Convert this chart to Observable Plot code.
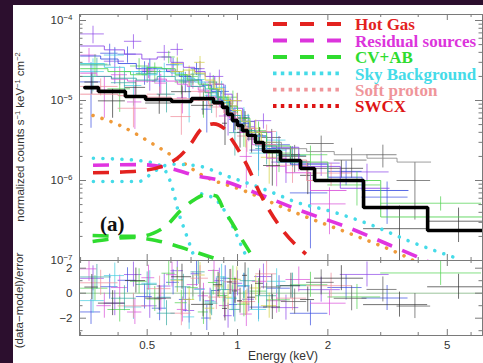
<!DOCTYPE html>
<html><head><meta charset="utf-8">
<script src="https://cdn.jsdelivr.net/npm/d3@7"></script>
<script src="https://cdn.jsdelivr.net/npm/@observablehq/plot@0.6"></script>
<style>
body{margin:0;background:#2c0f2e;}
#wrap{position:relative;width:483px;height:363px;overflow:hidden;background:#2c0f2e;}
#paper{position:absolute;left:13px;top:5px;width:470px;height:358px;background:#fff;}
.abs{position:absolute;left:0;top:0;}
</style></head><body>
<div id="wrap"><div id="paper"></div>
<div id="upper" class="abs"></div>
<div id="lower" class="abs" style="top:260px"></div>
</div>
<script>
// ---------- data: spectra rows [Elo, Ehi, model, data, relErr] ----------
const specPurple = [
 [0.30,0.36,4.8e-5,6.8e-5,0.35],[0.36,0.42,4.3e-5,3.1e-5,0.35],[0.42,0.48,3.8e-5,5.5e-5,0.30],
 [0.48,0.54,3.3e-5,2.3e-5,0.30],[0.54,0.60,3.5e-5,4.0e-5,0.25],[0.60,0.66,3.0e-5,4.35e-5,0.25],
 [0.66,0.72,2.6e-5,1.7e-5,0.25],[0.72,0.78,2.3e-5,2.5e-5,0.25],[0.78,0.84,2.0e-5,1.7e-5,0.25],
 [0.84,0.90,1.6e-5,2.0e-5,0.25],[0.90,0.96,1.2e-5,6.6e-6,0.25],[0.96,1.04,8.0e-6,9.9e-6,0.30],
 [1.04,1.14,5.5e-6,4.7e-6,0.30],[1.14,1.30,4.0e-6,5.6e-6,0.30],[1.30,1.60,2.6e-6,1.7e-6,0.30],
 [1.60,2.20,1.5e-6,1.65e-6,0.35],[2.20,3.20,8.0e-7,1.28e-6,0.40]
];
const specBlue = [
 [0.30,0.35,3.6e-5,1.71e-5,0.35],[0.35,0.40,3.3e-5,3.9e-5,0.35],[0.40,0.46,2.9e-5,3.8e-5,0.30],
 [0.46,0.52,2.5e-5,2.3e-5,0.30],[0.52,0.58,2.5e-5,1.75e-5,0.25],[0.58,0.64,2.3e-5,2.8e-5,0.25],
 [0.64,0.70,2.0e-5,1.75e-5,0.25],[0.70,0.76,1.8e-5,2.5e-5,0.25],[0.76,0.82,1.55e-5,7.8e-6,0.25],
 [0.82,0.88,1.3e-5,1.37e-5,0.25],[0.88,0.94,1.0e-5,1.3e-5,0.25],[0.94,1.00,7.5e-6,5.8e-6,0.25],
 [1.00,1.10,5.2e-6,6.1e-6,0.30],[1.10,1.25,3.6e-6,2.4e-6,0.30],[1.25,1.50,2.5e-6,2.8e-6,0.30],
 [1.50,2.00,1.6e-6,7.0e-7,0.35],[2.00,2.60,1.1e-6,1.3e-6,0.40],[2.60,3.70,7.5e-7,6.2e-7,0.45]
];
const specMagenta = [
 [0.30,0.34,2.2e-5,3.7e-5,0.35],[0.34,0.38,2.0e-5,1.3e-5,0.35],[0.38,0.43,1.85e-5,2.1e-5,0.30],
 [0.43,0.48,1.75e-5,9.6e-6,0.30],[0.48,0.53,1.75e-5,2.4e-5,0.30],[0.53,0.58,1.85e-5,1.65e-5,0.25],
 [0.58,0.63,1.75e-5,2.4e-5,0.25],[0.63,0.68,1.6e-5,1.08e-5,0.25],[0.68,0.74,1.5e-5,1.76e-5,0.25],
 [0.74,0.80,1.35e-5,1.28e-5,0.25],[0.80,0.87,1.1e-5,1.6e-5,0.25],[0.87,0.94,8.5e-6,6.4e-6,0.25],
 [0.94,1.02,6.0e-6,6.5e-6,0.30],[1.02,1.12,4.0e-6,2.0e-6,0.30],[1.12,1.25,2.8e-6,3.6e-6,0.30],
 [1.25,1.45,1.9e-6,1.5e-6,0.35],[1.45,1.75,1.25e-6,1.73e-6,0.35],[1.75,2.30,7.5e-7,5.1e-7,0.40]
];
const specCyan = [
 [0.30,0.36,2.9e-5,2.3e-5,0.35],[0.36,0.42,2.6e-5,3.7e-5,0.30],[0.42,0.48,2.3e-5,1.54e-5,0.30],
 [0.48,0.54,2.1e-5,2.6e-5,0.30],[0.54,0.60,2.5e-5,2.3e-5,0.25],[0.60,0.66,2.2e-5,2.8e-5,0.25],
 [0.66,0.72,1.9e-5,1.0e-5,0.25],[0.72,0.78,1.7e-5,1.83e-5,0.25],[0.78,0.85,1.4e-5,1.16e-5,0.25],
 [0.85,0.92,1.1e-5,1.46e-5,0.25],[0.92,1.00,8.0e-6,7.2e-6,0.25],[1.00,1.10,5.5e-6,6.5e-6,0.30],
 [1.10,1.25,3.6e-6,2.2e-6,0.30],[1.25,1.45,2.4e-6,3.2e-6,0.35]
];
const specGreen = [
 [0.30,0.37,2.5e-5,2.85e-5,0.35],[0.37,0.44,2.3e-5,1.4e-5,0.30],[0.44,0.50,2.1e-5,2.7e-5,0.30],
 [0.50,0.56,2.6e-5,2.3e-5,0.25],[0.56,0.62,2.5e-5,3.5e-5,0.25],[0.62,0.68,2.1e-5,1.7e-5,0.25],
 [0.68,0.74,1.8e-5,2.0e-5,0.25],[0.74,0.80,1.6e-5,1.0e-5,0.25],[0.80,0.86,1.4e-5,1.7e-5,0.25],
 [0.86,0.93,1.1e-5,1.05e-5,0.25],[0.93,1.00,8.5e-6,1.1e-5,0.25],[1.00,1.10,6.0e-6,4.4e-6,0.30],
 [1.10,1.25,4.0e-6,4.2e-6,0.30],[1.25,1.50,2.7e-6,2.2e-6,0.35],[1.50,2.00,1.7e-6,2.1e-6,0.35],
 [2.00,3.00,1.0e-6,8.8e-7,0.40],[3.00,6.50,3.5e-7,5.2e-7,0.30]
];
const specYellow = [
 [0.60,0.66,2.3e-5,2.9e-5,0.25],[0.66,0.72,2.4e-5,2.1e-5,0.25],[0.72,0.78,2.2e-5,3.0e-5,0.25],
 [0.78,0.84,1.8e-5,1.26e-5,0.25],[0.84,0.90,1.4e-5,1.6e-5,0.25],[0.90,0.96,1.0e-5,9.2e-6,0.25],
 [0.96,1.03,7.5e-6,1.0e-5,0.30],[1.03,1.10,5.5e-6,4.2e-6,0.30],[1.10,1.20,4.0e-6,4.5e-6,0.30],
 [1.20,1.35,3.0e-6,1.95e-6,0.35]
];
const specPink = [
 [0.30,0.40,1.2e-5,1.5e-5,0.30],[0.40,0.50,1.15e-5,8.0e-6,0.30],[0.50,0.60,1.1e-5,1.2e-5,0.25],
 [0.60,0.70,1.05e-5,6.3e-6,0.25],[0.70,0.80,1.0e-5,1.3e-5,0.25],[0.80,0.90,9.0e-6,8.3e-6,0.25],
 [0.90,1.00,7.0e-6,8.6e-6,0.25],[1.00,1.15,4.5e-6,3.6e-6,0.30],[1.15,1.35,2.8e-6,4.1e-6,0.30],
 [1.35,1.70,1.8e-6,1.55e-6,0.35],[1.70,2.40,1.0e-6,1.24e-6,0.40]
];
const specTeal = [
 [0.30,0.38,2.0e-5,2.78e-5,0.30],[0.38,0.46,1.9e-5,1.67e-5,0.30],[0.46,0.54,1.8e-5,2.18e-5,0.30],
 [0.54,0.62,2.0e-5,1.2e-5,0.25],[0.62,0.70,1.8e-5,2.03e-5,0.25],[0.70,0.78,1.5e-5,2.14e-5,0.25],
 [0.78,0.86,1.25e-5,1.0e-5,0.25],[0.86,0.94,9.5e-6,1.02e-5,0.25],[0.94,1.02,6.5e-6,3.97e-6,0.30],
 [1.02,1.15,4.2e-6,5.46e-6,0.30],[1.15,1.35,2.7e-6,2.51e-6,0.35],[1.35,1.70,1.7e-6,2.06e-6,0.35]
];
const specGrey = [
 [1.20,1.40,3.0e-6,3.45e-6,0.30],[1.40,1.70,2.5e-6,2.0e-6,0.30],[1.70,2.10,2.3e-6,2.9e-6,0.30],
 [2.10,2.70,2.1e-6,1.8e-6,0.35],[2.70,3.40,1.9e-6,2.1e-6,0.35],[3.40,4.40,1.7e-6,1.0e-6,0.40]
];
const specBlack = [
 [0.31,0.344,1.45e-5,1.7e-5,0.35],[0.344,0.423,1.30e-5,9.9e-6,0.30],[0.423,0.494,1.12e-5,1.46e-5,0.30],
 [0.494,0.603,1.03e-5,9.3e-6,0.25],[0.603,0.703,9.7e-6,1.29e-5,0.25],[0.703,0.832,1.06e-5,8.7e-6,0.20],
 [0.832,0.891,9.4e-6,1.1e-5,0.25],[0.891,0.926,8.2e-6,5.2e-6,0.30],[0.926,0.962,6.7e-6,8.5e-6,0.30],
 [0.962,1.0,5.6e-6,5.9e-6,0.30],[1.0,1.039,4.87e-6,4.0e-6,0.30],[1.039,1.08,4.2e-6,6.0e-6,0.30],
 [1.08,1.148,3.65e-6,3.3e-6,0.30],[1.148,1.221,2.99e-6,3.7e-6,0.30],[1.221,1.391,2.30e-6,1.54e-6,0.30],
 [1.391,1.622,1.78e-6,2.1e-6,0.30],[1.622,1.806,1.41e-6,1.16e-6,0.35],[1.806,2.63,1.0e-6,1.42e-6,0.35],
 [2.63,4.30,4.6e-7,2.5e-7,0.50],[4.30,6.6,2.37e-7,3.1e-7,0.60]
];

// ---------- model components (E keV, normalized counts) ----------
const hotGasE = [0.33,0.40,0.475,0.56,0.646,0.70,0.753,0.832,0.90,0.962,1.08,1.193,1.39,1.69];
const hotGasV = [1.25e-6,1.27e-6,1.32e-6,1.5e-6,2.05e-6,2.9e-6,4.3e-6,5.1e-6,4.5e-6,3.16e-6,1.5e-6,6.7e-7,2.6e-7,1.2e-7];
const residE = [0.33,0.475,0.60,0.719,0.912,1.139,1.622,2.29,3.24,4.30];
const residV = [1.55e-6,1.58e-6,1.41e-6,1.16e-6,9.7e-7,7.1e-7,4.2e-7,2.66e-7,1.54e-7,9.8e-8];
const cvab1E = [0.329,0.475,0.525,0.58,0.646,0.72,0.79,0.85,0.90,0.948,1.03,1.10];
const cvab1V = [2.05e-7,2.0e-7,2.2e-7,2.74e-7,4.2e-7,5.8e-7,6.7e-7,6.4e-7,4.3e-7,3.16e-7,1.88e-7,1.26e-7];
const cvab2E = [0.329,0.447,0.553,0.713,0.878,0.95];
const cvab2V = [1.73e-7,1.94e-7,1.73e-7,1.30e-7,1.0e-7,9.0e-8];
const skyLhbE = [0.331,0.40,0.468,0.553,0.603,0.636,0.671,0.724];
const skyLhbV = [1.9e-6,1.85e-6,1.78e-6,1.54e-6,8.7e-7,4.0e-7,2.24e-7,1.0e-7];
const skyCxbE = [0.331,0.468,0.533,0.598,0.724,0.933,1.259,1.585,2.01,2.82,3.69,5.41];
const skyCxbV = [9.7e-7,9.7e-7,1.33e-6,1.6e-6,1.54e-6,1.12e-6,7.5e-7,5.3e-7,4.2e-7,2.74e-7,1.78e-7,1.06e-7];
const skyHaloE = [0.76,0.82,0.87,0.912,0.985,1.047,1.09];
const skyHaloV = [6.8e-7,6.2e-7,5.2e-7,4.0e-7,2.24e-7,1.33e-7,1.0e-7];
const softProtonE = [0.33,0.40,0.533,0.646,0.764,1.047,1.50,2.42,3.63,3.98];
const softProtonV = [6.5e-6,5.0e-6,2.74e-6,1.75e-6,1.16e-6,7.5e-7,4.2e-7,2.1e-7,1.12e-7,9.4e-8];

// ---------- ticks & labels ----------
const majorX = [0.5,1,2,5];
const minorX = [0.3,0.4,0.6,0.7,0.8,0.9,3,4,6];
const majorYUp = [1e-7,1e-6,1e-5,1e-4];
const majorYLo = [-2,0,2];
const minorYLo = [-3,-1,1];
const legendLabels = ["Hot Gas","Residual sources","CV+AB","Sky Background","Soft proton","SWCX"];
const legendColors = ["#e3221f","#dc34dc","#2fdc2f","#45dbe8","#ef959a","#de1414"];
const legendDash = ["14 13","14 13","14 13","3.5 4.3","3.5 4.3","3.5 4.3"];

// ---------- build ----------
const spectra = [
 {rows:specPurple,color:"#8b45e8"},{rows:specBlue,color:"#3b4fe0"},{rows:specMagenta,color:"#d94fd9"},
 {rows:specCyan,color:"#45cde0"},{rows:specGreen,color:"#4fd24f"},{rows:specYellow,color:"#d2cf3c"},
 {rows:specPink,color:"#f08a9a"},{rows:specTeal,color:"#35a8a0"},{rows:specGrey,color:"#555",model:"#8c8c8c"},
 {rows:specBlack,color:"#333",model:"#000",w:3.6}
];
const rowsOf = s => s.rows.map(([lo,hi,m,d,r])=>({lo,hi,c:(lo+hi)/2,m,d,e:r*m,res:(d-m)/(r*m)}));
const pts = (E,V) => E.map((e,i)=>({x:e,y:V[i]}));

const W=483, ML=79, MR=1, innerW=W-ML-MR;
const xDomain=[0.2975,6.55];
const frameC="#7a7a7a";
const upH=262, upMT=14, upMB=2, upIH=upH-upMT-upMB;
const loH=103, loMT=0, loMB=28, loIH=loH-loMT-loMB;

const minorYUp = [];
for (const dec of [1e-7,1e-6,1e-5]) for (let k=2;k<=9;k++) minorYUp.push(k*dec);

function xTickMarks(IH){
 return [
  Plot.ruleX(majorX,{x:d=>d,insetBottom:IH-6,stroke:frameC}),
  Plot.ruleX(majorX,{x:d=>d,insetTop:IH-6,stroke:frameC}),
  Plot.ruleX(minorX,{x:d=>d,insetBottom:IH-3,stroke:frameC}),
  Plot.ruleX(minorX,{x:d=>d,insetTop:IH-3,stroke:frameC})
 ];
}
function yTickMarks(maj,min){
 return [
  Plot.ruleY(maj,{y:d=>d,insetRight:innerW-7,stroke:frameC}),
  Plot.ruleY(maj,{y:d=>d,insetLeft:innerW-7,stroke:frameC}),
  Plot.ruleY(min,{y:d=>d,insetRight:innerW-3.5,stroke:frameC}),
  Plot.ruleY(min,{y:d=>d,insetLeft:innerW-3.5,stroke:frameC})
 ];
}

const crossMarks=[], modelMarks=[], resMarks=[];
for (const s of spectra){
 const rows=rowsOf(s);
 const steps=rows.flatMap(r=>[{x:r.lo,y:r.m},{x:r.hi,y:r.m}]);
 crossMarks.push(Plot.ruleY(rows,{y:"d",x1:"lo",x2:"hi",stroke:s.color,strokeOpacity:0.7,clip:true}));
 crossMarks.push(Plot.ruleX(rows,{x:"c",y1:r=>Math.max(r.d-r.e,5e-8),y2:r=>r.d+r.e,stroke:s.color,strokeOpacity:0.7,clip:true}));
 modelMarks.push(Plot.line(steps,{x:"x",y:"y",stroke:s.model||s.color,strokeWidth:s.w||1,strokeOpacity:s.w?1:0.85,strokeLinejoin:"miter",clip:true}));
 resMarks.push(Plot.ruleY(rows,{y:"res",x1:"lo",x2:"hi",stroke:s.color,strokeOpacity:0.7,clip:true}));
 resMarks.push(Plot.ruleX(rows,{x:"c",y1:r=>r.res-1,y2:r=>r.res+1,stroke:s.color,strokeOpacity:0.7,clip:true}));
}
const dash="16 11", dot="0.01 9.5";
const comp=(E,V,color,da)=>Plot.line(pts(E,V),{x:"x",y:"y",stroke:color,strokeWidth:3.6,strokeDasharray:da,strokeLinecap:da===dot?"round":"butt",curve:"monotone-x",clip:true});
const compMarks=[
 comp(softProtonE,softProtonV,"#ef9a3a",dot),
 comp(skyCxbE,skyCxbV,"#45dbe8",dot),
 comp(skyLhbE,skyLhbV,"#45dbe8",dot),
 comp(skyHaloE,skyHaloV,"#45dbe8",dot),
 comp(cvab2E,cvab2V,"#2fdc2f",dash),
 comp(cvab1E,cvab1V,"#2fdc2f",dash),
 comp(residE,residV,"#e034e0",dash),
 comp(hotGasE,hotGasV,"#e3221f",dash)
];
const style={fontFamily:"'Liberation Sans',Arial,sans-serif",fontSize:"11.5px",color:"#333",background:"transparent",overflow:"visible"};

const up = Plot.plot({
 width:W,height:upH,marginLeft:ML,marginRight:MR,marginTop:upMT,marginBottom:upMB,style,
 x:{type:"log",domain:xDomain,axis:null},
 y:{type:"log",domain:[1e-7,1.189e-4]},
 marks:[
  ...crossMarks, ...modelMarks, ...compMarks,
  Plot.frame({stroke:frameC}),
  ...xTickMarks(upIH), ...yTickMarks(majorYUp,minorYUp),
  Plot.axisY(majorYUp,{anchor:"left",tickSize:0,tickPadding:7,label:null,tickFormat:d=>"10^"+Math.round(Math.log10(d))})
 ]
});
document.getElementById("upper").appendChild(up);

const lo = Plot.plot({
 width:W,height:loH,marginLeft:ML,marginRight:MR,marginTop:loMT,marginBottom:loMB,style,
 x:{type:"log",domain:xDomain,axis:null},
 y:{domain:[-3.384,2.616]},
 marks:[
  Plot.ruleY([0],{stroke:"#9cc49c",strokeWidth:1}),
  ...resMarks,
  Plot.frame({stroke:frameC}),
  ...xTickMarks(loIH), ...yTickMarks(majorYLo,minorYLo),
  Plot.axisY(majorYLo,{anchor:"left",tickSize:0,tickPadding:7,label:null,tickFormat:d=>d<0?"\u2212"+Math.abs(d):String(d)}),
  Plot.text(majorX,{x:d=>d,text:d=>String(d),frameAnchor:"bottom",lineAnchor:"top",dy:5,fill:"#333",fontSize:11.5})
 ]
});
document.getElementById("lower").appendChild(lo);

// superscripts on the log tick labels
d3.select(up).selectAll("text").each(function(){
 const m=this.textContent.match(/^10\^(-?\d+)$/);
 if(m){const t=d3.select(this); t.text("10"); t.append("tspan").attr("dy","-0.5em").attr("font-size","8px").text(m[1].replace("-","\u2212"));}
});

// overlay: legend, panel tag, axis titles
const ov=d3.select("#wrap").append("svg").attr("width",483).attr("height",363)
 .style("position","absolute").style("left","0").style("top","0");
const legendY=[24,40.5,57,73.3,89.7,106];
legendLabels.forEach((lab,i)=>{
 const y=legendY[i];
 ov.append("line").attr("x1",273).attr("x2",342).attr("y1",y).attr("y2",y)
  .attr("stroke",legendColors[i]).attr("stroke-width",3.8).attr("stroke-dasharray",legendDash[i]);
 ov.append("text").attr("x",355).attr("y",y+6.3).attr("fill",legendColors[i])
  .attr("font-family","'Liberation Serif','Times New Roman',serif").attr("font-weight","bold")
  .attr("font-size",17).text(lab);
});
ov.append("text").attr("x",100).attr("y",231).attr("font-family","'Liberation Serif','Times New Roman',serif")
 .attr("font-weight","bold").attr("font-size",21).attr("fill","#111").text("(a)");
const sans="'Liberation Sans',Arial,sans-serif";
const yl=ov.append("text").attr("transform","translate(23.5,137) rotate(-90)").attr("text-anchor","middle")
 .attr("font-family",sans).attr("font-size",11.5).attr("fill","#333");
yl.append("tspan").text("normalized counts s");
yl.append("tspan").attr("dy",-4).attr("font-size",7.5).text("\u22121");
yl.append("tspan").attr("dy",4).text(" keV");
yl.append("tspan").attr("dy",-4).attr("font-size",7.5).text("\u22121");
yl.append("tspan").attr("dy",4).text(" cm");
yl.append("tspan").attr("dy",-4).attr("font-size",7.5).text("\u22122");
ov.append("text").attr("transform","translate(22.5,300.5) rotate(-90)").attr("text-anchor","middle")
 .attr("font-family",sans).attr("font-size",11.5).attr("fill","#333").text("(data\u2212model)/error");
ov.append("text").attr("x",283).attr("y",360).attr("text-anchor","middle")
 .attr("font-family",sans).attr("font-size",12).attr("fill","#333").text("Energy (keV)");
</script>
</body></html>
